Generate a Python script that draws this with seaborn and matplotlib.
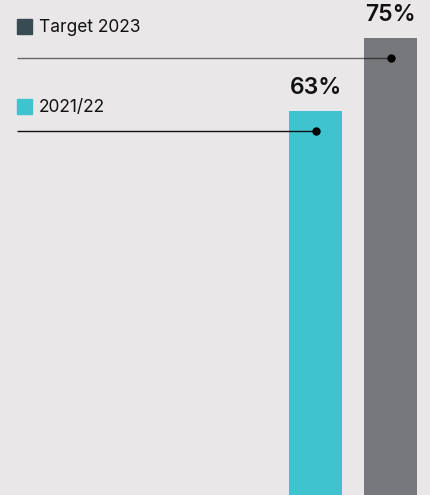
import numpy as np
import pandas as pd
import matplotlib
matplotlib.use('Agg')
import matplotlib.pyplot as plt
from matplotlib.patches import Rectangle
import seaborn as sns

# 데이터
categories = ['2021/22', 'Target 2023']
values = [63, 75]
labels = ['63%', '75%']
colors = ['#3ec3cf', '#77787b']
legend_colors = ['#3ec3cf', '#384b52']

bg = '#e9e7e8'
sns.set_theme(style='white')
plt.rcParams['font.family'] = ['Inter', 'DejaVu Sans']

W, H = 430, 495
fig = plt.figure(figsize=(W / 100, H / 100), dpi=100, facecolor=bg)
ax = fig.add_axes([0, 0, 1, 1], facecolor=bg)

df = pd.DataFrame({'cat': categories, 'val': values})
sns.barplot(data=df, x='cat', y='val', hue='cat', palette=colors,
            width=0.707, legend=False, saturation=1, linewidth=0, ax=ax)

# 축 범위 : 막대 간격 75px 기준
ax.set_xlim(-315.5 / 75, (W - 315.5) / 75)
ax.set_ylim(0, H / 6.09)
ax.axis('off')

x_left = -315.5 / 75 + 17 / 75
line_styles = [dict(color='#111111', alpha=1.0), dict(color='black', alpha=0.55)]
for i, v in enumerate(values):
    dot_y = v - 3.2
    ax.plot([x_left, i], [dot_y, dot_y], lw=1.0, solid_capstyle='butt', **line_styles[i])
    ax.plot(i, dot_y, 'o', color='black', ms=5, zorder=5)
    ax.text(i, v + 3.8, labels[i], ha='center', va='center',
            fontsize=16.5, fontweight='semibold', color='#111111')

# 범례
leg_items = [('Target 2023', legend_colors[1], 26), ('2021/22', legend_colors[0], 106)]
for name, c, ypx in leg_items:
    fig.patches.append(Rectangle((17 / W, 1 - (ypx + 7.5) / H), 15 / W, 15 / H,
                                 transform=fig.transFigure, color=c, figure=fig))
    fig.text(39 / W, 1 - ypx / H, name, ha='left', va='center_baseline',
             fontsize=12.5, color='#111111')

plt.savefig('out.png', dpi=100, facecolor=bg)
print('finished')
